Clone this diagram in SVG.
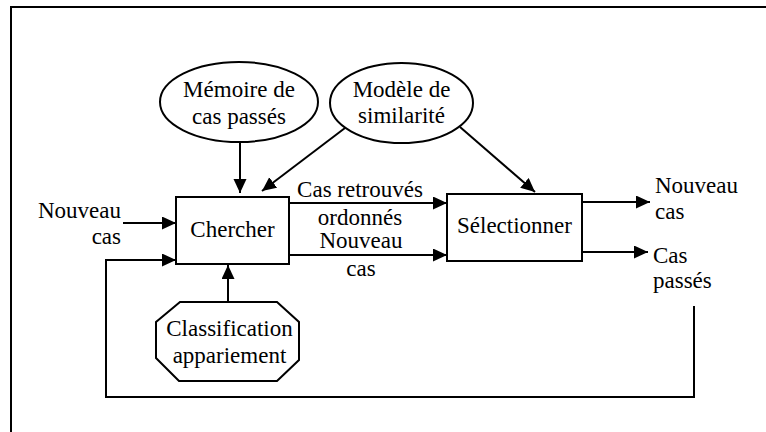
<svg xmlns="http://www.w3.org/2000/svg" width="766" height="432" viewBox="0 0 766 432" font-family="'Liberation Serif', Tinos, 'Times New Roman', 'DejaVu Serif', serif">
<style>
  text { font-family: "Liberation Serif", Tinos, "Times New Roman", "DejaVu Serif", serif; font-size: 23px; fill: #000; }
  .c { text-anchor: middle; }
  .e { text-anchor: end; }
  .shape { fill: #fff; stroke: #000; stroke-width: 2; }
  .conn { fill: none; stroke: #000; stroke-width: 2; }
</style>
<defs>
  <marker id="arr" markerUnits="userSpaceOnUse" markerWidth="14" markerHeight="14" refX="14" refY="6.5" orient="auto">
    <path d="M0,0 L14,6.5 L0,13 z" fill="#000"/>
  </marker>
</defs>
<rect x="0" y="0" width="766" height="432" fill="#fff"/>
<rect id="frame" x="11" y="7" width="780" height="450" fill="none" stroke="#000" stroke-width="2"/>

<g id="connectors">
  <line class="conn" x1="240" y1="142" x2="240" y2="193" marker-end="url(#arr)"/>
  <line class="conn" x1="345" y1="128" x2="262" y2="191" marker-end="url(#arr)"/>
  <line class="conn" x1="460" y1="127" x2="535" y2="192" marker-end="url(#arr)"/>
  <line class="conn" x1="123" y1="223" x2="176" y2="223" marker-end="url(#arr)"/>
  <polyline class="conn" points="694,306 694,397 106,397 106,260 176,260" marker-end="url(#arr)"/>
  <line class="conn" x1="289" y1="203" x2="447" y2="203" marker-end="url(#arr)"/>
  <line class="conn" x1="289" y1="255" x2="447" y2="255" marker-end="url(#arr)"/>
  <line class="conn" x1="228" y1="302" x2="228" y2="265" marker-end="url(#arr)"/>
  <line class="conn" x1="582" y1="202" x2="650" y2="202" marker-end="url(#arr)"/>
  <line class="conn" x1="579" y1="252" x2="648" y2="252" marker-end="url(#arr)"/>
</g>

<g id="memoire">
  <ellipse class="shape" cx="239" cy="102" rx="79" ry="40"/>
  <text class="c" x="239" y="97">Mémoire de</text>
  <text class="c" x="239" y="124">cas passés</text>
</g>

<g id="modele">
  <ellipse class="shape" cx="401.5" cy="103" rx="71.5" ry="40"/>
  <text class="c" x="401.5" y="97">Modèle de</text>
  <text class="c" x="401.5" y="123">similarité</text>
</g>

<g id="chercher">
  <rect class="shape" x="176" y="197" width="113" height="67"/>
  <text class="c" x="232.5" y="237">Chercher</text>
</g>

<g id="selectionner">
  <rect class="shape" x="447" y="194" width="135" height="67"/>
  <text class="c" x="514.5" y="233">Sélectionner</text>
</g>

<g id="classification">
  <polygon class="shape" points="180,302 277,302 299,322 299,360 277,381 179,381 156,358 156,322"/>
  <text class="c" x="229.5" y="336">Classification</text>
  <text class="c" x="229.5" y="363">appariement</text>
</g>

<g id="labels">
  <text class="e" x="121" y="218">Nouveau</text>
  <text class="e" x="121" y="244">cas</text>
  <text class="c" x="360" y="197">Cas retrouvés</text>
  <text class="c" x="360" y="225">ordonnés</text>
  <text class="c" x="361" y="248">Nouveau</text>
  <text class="c" x="361" y="276">cas</text>
  <text x="655" y="193">Nouveau</text>
  <text x="655" y="219">cas</text>
  <text x="653" y="263">Cas</text>
  <text x="653" y="288">passés</text>
</g>
</svg>
